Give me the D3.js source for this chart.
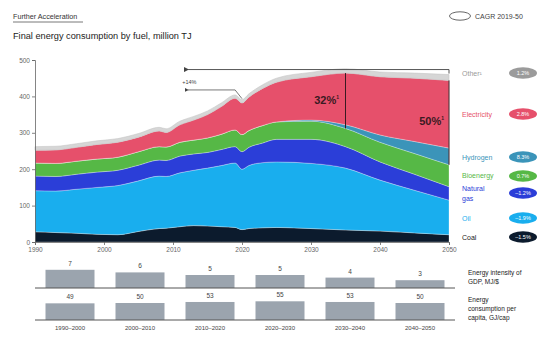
<!DOCTYPE html>
<html>
<head>
<meta charset="utf-8">
<script src="https://cdn.jsdelivr.net/npm/d3@7/dist/d3.min.js"></script>
<style>
  html, body { margin: 0; padding: 0; background: #fff; }
  svg { display: block; font-family: "Liberation Sans", Arial, sans-serif; }
</style>
</head>
<body>
<svg id="chart" width="544" height="340"></svg>
<script>
// Final energy consumption by fuel, million TJ
const years = [1990, 1993, 1996, 1999, 2002, 2005, 2008, 2009, 2011, 2013, 2015, 2017, 2019, 2020, 2021, 2023, 2025, 2030, 2035, 2040, 2045, 2050];
const coal        = [28, 26, 24, 21, 20, 29, 37, 38, 42, 45, 44, 42, 40, 34, 37, 39, 40, 37, 33, 30, 25, 20];
const oil         = [113, 114, 121, 129, 135, 139, 144, 142, 148, 152, 159, 168, 177, 166, 173, 179, 180, 179, 170, 140, 117, 95];
const naturalGas  = [40, 40, 41, 42, 42, 43, 44, 44, 46, 45, 43, 44, 45, 48, 50, 54, 62, 66, 59, 50, 44, 37];
const bioenergy   = [36, 36, 36, 36, 36, 37, 37, 37, 38, 38, 40, 42, 46, 47, 46, 48, 48, 50, 50, 54, 57, 60];
const hydrogen    = [0, 0, 0, 0, 0, 0, 0, 0, 0, 0, 0, 0, 0, 0, 0, 0, 0, 3, 10, 20, 33, 46];
const electricity = [35, 37, 38, 40, 41, 40, 43, 40, 48, 55, 64, 76, 87, 87, 92, 102, 109, 119, 142, 160, 174, 186];
const other       = [10, 10, 10, 10, 10, 10, 10, 10, 10, 10, 10, 10, 9, 9, 9, 10, 11, 12, 12, 13, 14, 16];

const seriesKeys   = ["coal", "oil", "gas", "bio", "hydrogen", "electricity", "other"];
const seriesNames  = ["Coal", "Oil", "Natural gas", "Bioenergy", "Hydrogen", "Electricity", "Other¹"];
const cagrLabels   = ["–1.5%", "–1.9%", "–1.2%", "0.7%", "8.3%", "2.8%", "1.2%"];

// Bottom panel
const periods          = ["1990–2000", "2000–2010", "2010–2020", "2020–2030", "2030–2040", "2040–2050"];
const energyIntensity  = [7, 6, 5, 5, 4, 3];
const perCapita        = [49, 50, 53, 55, 53, 50];

const yTicks = [0, 100, 200, 300, 400, 500];
const xTicks = [1990, 2000, 2010, 2020, 2030, 2040, 2050];

const colors = {
  coal: "#0c1b2d", oil: "#19aeee", gas: "#2b3ed8", bio: "#56b846",
  hydrogen: "#3b94b9", electricity: "#e6506b", other: "#d6d6d6"
};
const textColors = {
  coal: "#222", oil: "#19aeee", gas: "#2b3ed8", bio: "#56b846",
  hydrogen: "#3b94b9", electricity: "#e6506b", other: "#9a9a9a"
};
const bubbleColors = Object.assign({}, colors, { other: "#9b9b9b" });

const table = years.map((y, i) => ({
  year: y, coal: coal[i], oil: oil[i], gas: naturalGas[i], bio: bioenergy[i],
  hydrogen: hydrogen[i], electricity: electricity[i], other: other[i]
}));

const svg = d3.select("#chart");

// Header
svg.append("text").attr("x", 13).attr("y", 19).attr("font-size", 7.2).attr("fill", "#333")
  .text("Further Acceleration");
svg.append("line").attr("x1", 13).attr("x2", 83).attr("y1", 22).attr("y2", 22)
  .attr("stroke", "#555").attr("stroke-width", 0.8);
svg.append("text").attr("x", 13).attr("y", 39).attr("font-size", 9.2).attr("fill", "#222")
  .text("Final energy consumption by fuel, million TJ");

svg.append("ellipse").attr("cx", 460).attr("cy", 16).attr("rx", 10.5).attr("ry", 4.2)
  .attr("fill", "#fff").attr("stroke", "#666").attr("stroke-width", 1);
svg.append("text").attr("x", 475).attr("y", 18.5).attr("font-size", 7).attr("fill", "#444")
  .text("CAGR 2019-50");

// Scales
const x = d3.scaleLinear().domain([1990, 2050]).range([35, 449]);
const y = d3.scaleLinear().domain([0, 500]).range([242, 60]);

const layers = d3.stack().keys(seriesKeys)(table);

const area = d3.area()
  .x(d => x(d.data.year))
  .y0(d => y(d[0]))
  .y1(d => y(d[1]))
  .curve(d3.curveMonotoneX);

svg.append("g").selectAll("path").data(layers).join("path")
  .attr("d", area)
  .attr("fill", d => colors[d.key])
  .attr("stroke", d => d.key === "other" ? "#c4c4c4" : "#ffffff")
  .attr("stroke-width", d => d.key === "other" ? 0.8 : 0.4)
  .attr("stroke-opacity", 0.7);

// Axes
const yAxis = d3.axisLeft(y).tickValues(yTicks).tickSize(3).tickPadding(2);
const gy = svg.append("g").attr("transform", "translate(35,0)").call(yAxis);
const xAxis = d3.axisBottom(x).tickValues(xTicks).tickFormat(d3.format("d")).tickSize(3).tickPadding(2);
const gx = svg.append("g").attr("transform", "translate(0,242)").call(xAxis);
[gx, gy].forEach(g => {
  g.select(".domain").attr("stroke", "#666").attr("stroke-width", 0.8);
  g.selectAll(".tick line").attr("stroke", "#666").attr("stroke-width", 0.8);
  g.selectAll(".tick text").attr("font-size", 6.5).attr("fill", "#666")
    .attr("font-family", "Liberation Sans, Arial, sans-serif");
});

// Totals and shares
const rowAt = yr => table.find(d => d.year === yr);
const totalAt = yr => { const r = rowAt(yr); return seriesKeys.reduce((s, k) => s + r[k], 0); };
const pct = d3.format(".0%");

// Growth bracket 2019 → 2050
const t2019 = totalAt(2019), t2050 = totalAt(2050);
const leftX = x(2012.2);
svg.append("defs").append("marker").attr("id", "arrowL").attr("viewBox", "0 0 6 6")
  .attr("refX", 1).attr("refY", 3).attr("markerWidth", 5).attr("markerHeight", 5).attr("orient", "auto-start-reverse")
  .append("path").attr("d", "M6,0 L0,3 L6,6 Z").attr("fill", "#444");
svg.append("line").attr("x1", leftX).attr("x2", x(2050)).attr("y1", y(t2050) - 5).attr("y2", y(t2050) - 5)
  .attr("stroke", "#555").attr("stroke-width", 1).attr("marker-start", "url(#arrowL)");
svg.append("line").attr("x1", x(2050)).attr("x2", x(2050)).attr("y1", y(t2050) - 5).attr("y2", y(t2050) - 1)
  .attr("stroke", "#555").attr("stroke-width", 1);
svg.append("line").attr("x1", leftX).attr("x2", x(2019)).attr("y1", y(t2019) - 5).attr("y2", y(t2019) - 5)
  .attr("stroke", "#555").attr("stroke-width", 0.8).attr("marker-start", "url(#arrowL)");
svg.append("line").attr("x1", x(2019)).attr("x2", x(2020)).attr("y1", y(t2019) - 5).attr("y2", y(totalAt(2020)) - 1)
  .attr("stroke", "#555").attr("stroke-width", 0.8);
svg.append("text").attr("x", leftX - 6).attr("y", (y(t2019) + y(t2050)) / 2 - 1)
  .attr("font-size", 5.5).attr("fill", "#444")
  .text("+" + pct(t2050 / t2019 - 1));

// Electrification share markers
[[2035, 339, 104], [2050, 444, 125]].forEach(([yr, tx, ty]) => {
  const r = rowAt(yr);
  const base = r.coal + r.oil + r.gas + r.bio;
  const top = base + r.hydrogen + r.electricity;
  svg.append("line").attr("x1", x(yr)).attr("x2", x(yr)).attr("y1", y(top)).attr("y2", y(base))
    .attr("stroke", "#3a1a22").attr("stroke-width", 1);
  const t = svg.append("text").attr("x", tx).attr("y", ty).attr("text-anchor", "end")
    .attr("font-size", 11).attr("font-weight", "bold").attr("fill", "#3a1a22")
    .text(pct((r.hydrogen + r.electricity) / totalAt(yr)));
  t.append("tspan").attr("font-size", 5).attr("dy", -5).text("1");
});

// Series labels with CAGR bubbles
const labelY = { other: [73], electricity: [114], hydrogen: [157], bio: [175], gas: [188, 198], oil: [218], coal: [237] };
const bubbleY = { other: 73, electricity: 114, hydrogen: 157, bio: 176, gas: 193, oil: 218, coal: 237 };
seriesKeys.forEach((k, i) => {
  const lines = k === "gas" ? ["Natural", "gas"] : [seriesNames[i]];
  lines.forEach((ln, j) => {
    svg.append("text").attr("x", 462).attr("y", labelY[k][j] + 2.5)
      .attr("font-size", 7).attr("fill", textColors[k]).text(ln);
  });
  svg.append("ellipse").attr("cx", 523).attr("cy", bubbleY[k]).attr("rx", 14).attr("ry", 5.8)
    .attr("fill", bubbleColors[k]);
  svg.append("text").attr("x", 523).attr("y", bubbleY[k] + 2).attr("text-anchor", "middle")
    .attr("font-size", 5.5).attr("fill", "#fff").text(cagrLabels[i]);
});

// Bottom bar rows
const band = d3.scaleBand().domain(periods).range([35, 455]).paddingInner(0.3).paddingOuter(0.15);
const rows = [
  { values: energyIntensity, scale: d3.scaleLinear().domain([0, 10]).range([288, 262]), label: ["Energy intensity of", "GDP, MJ/$"], labelY: 273 },
  { values: perCapita, scale: d3.scaleLinear().domain([0, 60]).range([320, 299.6]), label: ["Energy", "consumption per", "capita, GJ/cap"], labelY: 300 }
];
rows.forEach(row => {
  const g = svg.append("g");
  g.selectAll("rect").data(periods).join("rect")
    .attr("x", d => band(d)).attr("width", band.bandwidth())
    .attr("y", (d, i) => row.scale(row.values[i]))
    .attr("height", (d, i) => row.scale(0) - row.scale(row.values[i]))
    .attr("fill", "#9ba4ae");
  g.append("line").attr("x1", 35).attr("x2", 455).attr("y1", row.scale(0)).attr("y2", row.scale(0))
    .attr("stroke", "#555").attr("stroke-width", 1);
  g.selectAll("text.v").data(periods).join("text").attr("class", "v")
    .attr("x", d => band(d) + band.bandwidth() / 2)
    .attr("y", (d, i) => row.scale(row.values[i]) - 4)
    .attr("text-anchor", "middle").attr("font-size", 6.5).attr("fill", "#444")
    .text((d, i) => row.values[i]);
  row.label.forEach((ln, j) => {
    g.append("text").attr("x", 468).attr("y", row.labelY + j * 9 + 2)
      .attr("font-size", 6.5).attr("fill", "#222").text(ln);
  });
});
svg.append("g").selectAll("text").data(periods).join("text")
  .attr("x", d => band(d) + band.bandwidth() / 2).attr("y", 330)
  .attr("text-anchor", "middle").attr("font-size", 6).attr("fill", "#444")
  .text(d => d);
</script>
</body>
</html>
